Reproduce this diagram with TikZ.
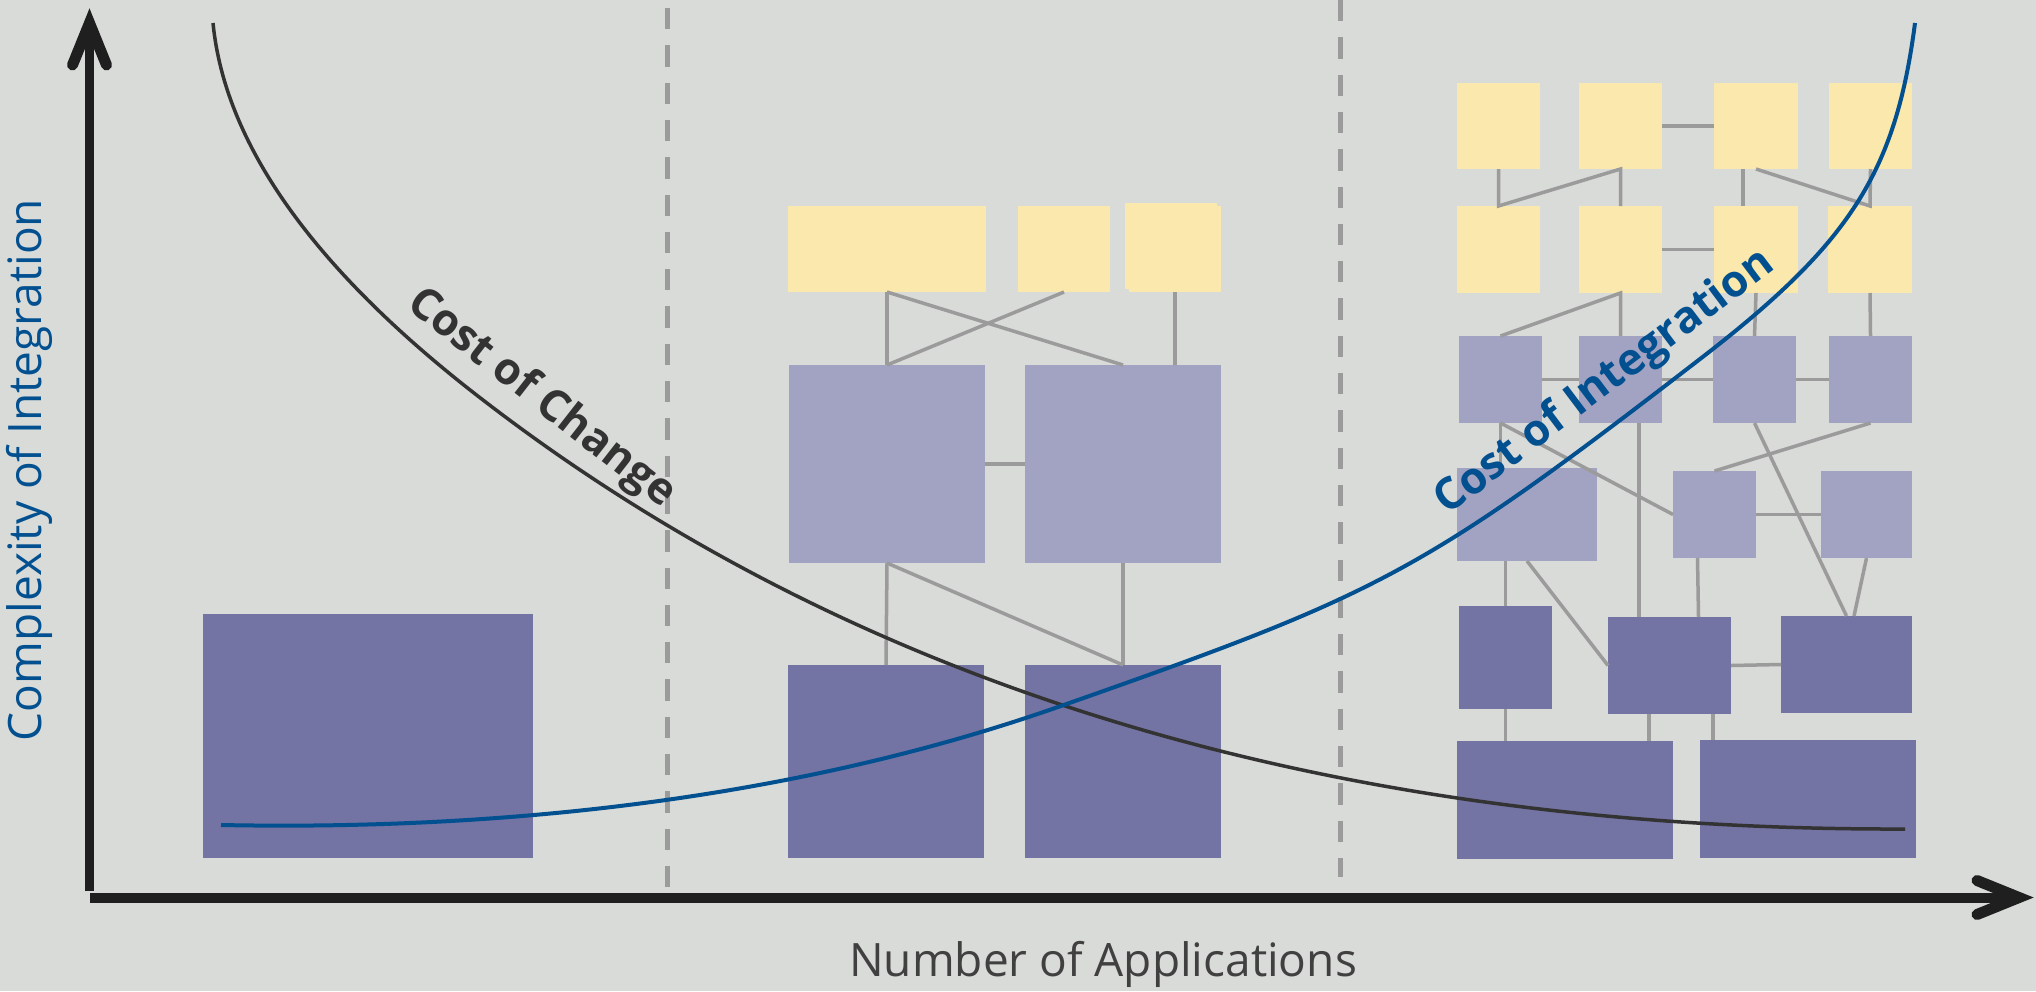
\documentclass[tikz,border=0pt]{standalone}
\usepackage{fontspec}
\setmainfont{Open Sans}
\definecolor{bg}{RGB}{217,219,216}
\definecolor{yel}{RGB}{250,232,172}
\definecolor{lpur}{RGB}{162,163,194}
\definecolor{dpur}{RGB}{115,115,164}
\definecolor{conn}{RGB}{155,155,155}
\definecolor{axiscol}{RGB}{31,31,31}
\definecolor{chg}{RGB}{51,51,51}
\definecolor{integ}{RGB}{2,80,144}
\definecolor{lblcol}{RGB}{64,64,64}
\newcommand\mkbox[6]{%
  \pgfmathsetmacro\bxcx{(#3+#5)/2}%
  \pgfmathsetmacro\bxcy{(#4+#6)/2}%
  \pgfmathsetmacro\bxw{#5-#3}%
  \pgfmathsetmacro\bxh{#6-#4}%
  \node[#1, minimum width=\bxw pt, minimum height=\bxh pt] (#2) at (\bxcx,\bxcy) {};}
\begin{document}
\begin{tikzpicture}[x=1pt,y=-1pt,
  box/.style={rectangle, inner sep=0pt, outer sep=0pt, draw=none},
  yb/.style={box, fill=yel},
  lb/.style={box, fill=lpur},
  db/.style={box, fill=dpur},
  wire/.style={draw=conn, line width=3.5pt},
  divider/.style={draw=conn, line width=5pt, dash pattern=on 21.3pt off 16pt},
  axisline/.style={draw=axiscol, line width=9.5pt},
  tipline/.style={draw=axiscol, line width=11pt, line cap=round, line join=miter},
  curvechg/.style={draw=chg, line width=3.5pt},
  curveint/.style={draw=integ, line width=4pt},
  boldlbl/.style={inner sep=0pt, font=\fontsize{44}{50}\selectfont\bfseries},
  axislbl/.style={inner sep=0pt, font=\fontsize{46}{52}\selectfont},
]
\fill[bg] (0,0) rectangle (2036,991);
\useasboundingbox (0,0) rectangle (2036,991);

% dividers
\coordinate (d1t) at (667,8);   \coordinate (d1b) at (667,888);
\coordinate (d2t) at (1340,0);  \coordinate (d2b) at (1340,877);
\draw[divider] (d1t) -- (d1b);
\draw[divider] (d2t) -- (d2b);

% left column
\mkbox{db}{ld}{203}{614}{533}{858}

% middle column
\mkbox{yb}{my1}{788}{206}{986}{292}
\mkbox{yb}{my2}{1018}{206}{1110}{292}
\mkbox{yb}{my3a}{1125}{203}{1217}{289}
\mkbox{yb}{my3}{1129}{206}{1221}{292}
\mkbox{lb}{ml1}{789}{365}{985}{563}
\mkbox{lb}{ml2}{1025}{365}{1221}{563}
\mkbox{db}{md1}{788}{665}{984}{858}
\mkbox{db}{md2}{1025}{665}{1221}{858}

% right column
\mkbox{yb}{r1a}{1457}{83}{1540}{169}
\mkbox{yb}{r1b}{1579}{83}{1662}{169}
\mkbox{yb}{r1c}{1714}{83}{1798}{169}
\mkbox{yb}{r1d}{1829}{83}{1912}{169}
\mkbox{yb}{r2a}{1457}{206}{1540}{293}
\mkbox{yb}{r2b}{1579}{206}{1662}{293}
\mkbox{yb}{r2c}{1714}{206}{1798}{293}
\mkbox{yb}{r2d}{1828}{206}{1912}{293}
\mkbox{lb}{r3a}{1459}{336}{1542}{423}
\mkbox{lb}{r3b}{1579}{336}{1662}{423}
\mkbox{lb}{r3c}{1713}{336}{1796}{423}
\mkbox{lb}{r3d}{1829}{336}{1912}{423}
\mkbox{lb}{r4a}{1457}{468}{1597}{561}
\mkbox{lb}{r4b}{1673}{471}{1756}{558}
\mkbox{lb}{r4c}{1821}{471}{1912}{558}
\mkbox{db}{r5a}{1459}{606}{1552}{709}
\mkbox{db}{r5b}{1608}{617}{1731}{714}
\mkbox{db}{r5c}{1781}{616}{1912}{713}
\mkbox{db}{r6a}{1457}{741}{1673}{859}
\mkbox{db}{r6b}{1700}{740}{1916}{858}

% middle connectors
\draw[wire] (my1.south) -- (ml1.north);
\draw[wire] (my1.south) -- (ml2.north);
\draw[wire] (my2.south) -- (ml1.north);
\draw[wire] (my3.south) -- (my3.south |- ml2.north);
\draw[wire] (ml1.east) -- (ml2.west);
\draw[wire] (ml1.south) -- (md1.north);
\draw[wire] (ml1.south) -- (md2.north);
\draw[wire] (ml2.south) -- (md2.north);

% right connectors
\coordinate (c1) at ([xshift=-13pt]r1c.south);
\coordinate (c2) at ([xshift=18.5pt]r3b.south);
\coordinate (c3) at ([xshift=7.5pt]r5c.north);
\coordinate (c4) at ([xshift=-17pt]r4b.south);
\coordinate (c5) at ([xshift=29pt]r5b.north);
\coordinate (c6) at ([xshift=-20.5pt]r5b.south);
\coordinate (c7) at ([xshift=43.5pt]r5b.south);
\draw[wire] (r1b.east) -- (r1c.west);
\draw[wire] (r1a.south) -- (r2a.north) -- (r1b.south) -- (r2b.north);
\draw[wire] (c1) -- (c1 |- r2c.north);
\draw[wire] (r1c.south) -- (r2d.north) -- (r1d.south);
\draw[wire] (r2b.east) -- (r2c.west);
\draw[wire] (r3a.north) -- (r2b.south) -- (r3b.north);
\draw[wire] (r2c.south) -- (r3c.north);
\draw[wire] (r2d.south) -- (r3d.north);
\draw[wire] (r3a.east) -- (r3b.west);
\draw[wire] (r3b.east) -- (r3c.west);
\draw[wire] (r3c.east) -- (r3d.west);
\draw[wire] (r3a.south) -- (r4b.west);
\draw[wire] (r3a.south) -- (r3a.south |- r4a.north);
\draw[wire] (c2) -- (c2 |- r5b.north);
\draw[wire] (r3d.south) -- (r4b.north);
\draw[wire] (r3c.south) -- (r5c.north);
\draw[wire] (r4b.east) -- (r4c.west);
\draw[wire] (r4c.south) -- (c3);
\draw[wire] (r5a.north |- r4a.south) -- (r5a.north);
\draw[wire] (r4a.south) -- (r5b.west);
\draw[wire] (c4) -- (c5);
\draw[wire] (r5b.east) -- (r5c.west);
\draw[wire] (r5a.south) -- (r5a.south |- r6a.north);
\draw[wire] (c6) -- (c6 |- r6a.north);
\draw[wire] (c7) -- (c7 |- r6b.north);

% axes
\coordinate (ybot) at (89.5,891);
\coordinate (yv) at (89.5,23);
\coordinate (xl) at (90,897.5);
\coordinate (xv) at (2019,897.5);
\draw[axisline] (ybot) -- (yv);
\draw[axisline, line width=10pt] (xl) -- (xv);
\draw[tipline] (72.5,65) -- (yv) -- (106.5,65);
\draw[tipline] (1977,880.5) -- (xv) -- (1977,914.5);

% curves
\coordinate (k0) at (213,23);
\coordinate (k1) at (483,400);
\coordinate (k2) at (1905,829);
\draw[curvechg] (k0) .. controls (225,145) and (315,271) .. (k1)
                     .. controls (803,646.4) and (1255,831) .. (k2);
\coordinate (b0) at (221,825);
\coordinate (b1) at (1058,707);
\coordinate (b2) at (1700,359);
\coordinate (b3) at (1915,23);
\draw[curveint] (b0) .. controls (521,831) and (808,794.5) .. (b1)
                     .. controls (1380,594) and (1420,575) .. (b2)
                     .. controls (1850,243.5) and (1895.5,173) .. (b3);

% labels
\node[boldlbl, text=chg, rotate=-38] (lchg) at (541,399) {Cost of Change};
\node[boldlbl, text=integ, rotate=37] (lint) at (1605,383) {Cost of Integration};
\node[axislbl, text=integ, rotate=90] (ylab) at (29,470) {Complexity of Integration};
\node[axislbl, text=lblcol] (xlab) at (1103,964) {Number of Applications};
\end{tikzpicture}
\end{document}
